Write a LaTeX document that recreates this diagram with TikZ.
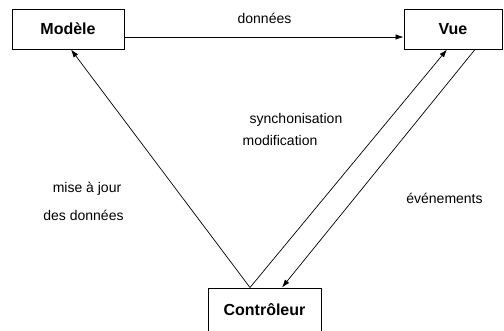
\documentclass[tikz,border=0pt]{standalone}
\usepackage{fontspec}
\setmainfont{Liberation Sans}
\usetikzlibrary{arrows.meta}
\begin{document}
\begin{tikzpicture}[x=1pt,y=-1pt,
  box/.style={draw,line width=1pt,inner sep=0pt,font=\bfseries\fontsize{16}{18}\selectfont},
  lbl/.style={anchor=base,inner sep=0pt,font=\fontsize{14}{16}\selectfont},
  link/.style={line width=0.7pt,-{Latex[length=8pt,width=5.5pt]}}]
\useasboundingbox (0,0) rectangle (504,330);
\clip (0,0) rectangle (504,330);

% the three components
\node[box,minimum width=112pt,minimum height=40pt] (M) at (68,29) {Modèle};
\node[box,minimum width=98pt,minimum height=40pt] (V) at (453,29) {Vue};
\node[box,minimum width=113pt,minimum height=44pt] (C) at (264.5,310) {Contrôleur};

% connectors
\coordinate (c0) at ([xshift=-14.5pt]C.north);
\draw[link] ([yshift=-8pt]M.east) -- ([yshift=-8pt]V.west);
\draw[link] (c0) -- ([xshift=3pt]M.south);
\draw[link] (c0) -- ([xshift=-6pt]V.south);
\draw[link] ([xshift=22pt]V.south) -- ([xshift=17.5pt]C.north);

% connector labels
\node[lbl] (ldon) at (264.5,23) {données};
\node[lbl] (lsyn) at (296,123) {synchonisation};
\node[lbl] (lmod) at (280,145) {modification};
\node[lbl] (lmaj) at (87,192) {mise à jour};
\node[lbl] (ldes) at (83.5,220) {des données};
\node[lbl] (lev) at (444.5,203) {événements};
\end{tikzpicture}
\end{document}
